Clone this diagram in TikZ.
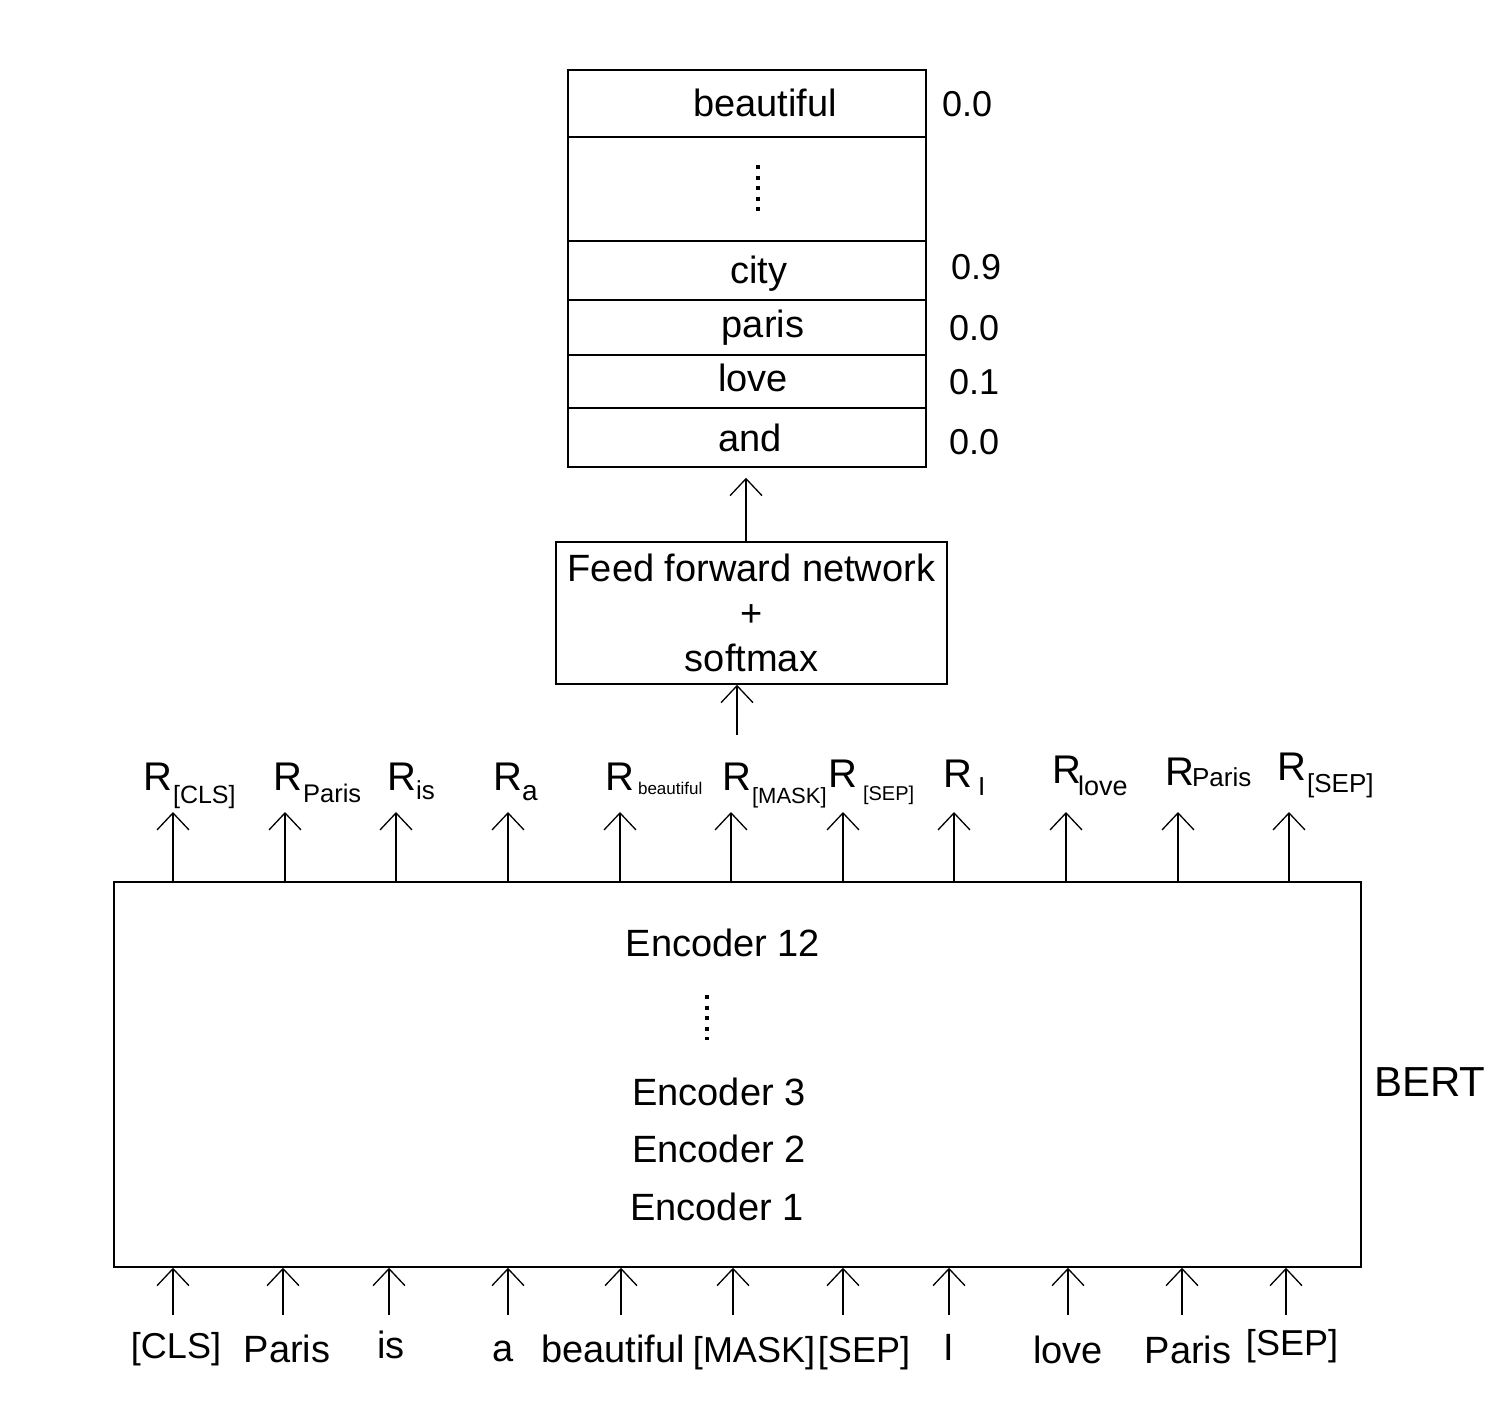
\documentclass[tikz,border=0pt]{standalone}
\usepackage{fontspec}
\setmainfont{Liberation Sans}
\usetikzlibrary{arrows.meta}

\newcommand{\rlab}[4]{R\kern#1pt\raisebox{-#2pt}{\fontsize{#3}{#3}\selectfont #4}}

\begin{document}
\begin{tikzpicture}[x=1pt, y=-1pt,
    box/.style={draw, line width=1.5pt, inner sep=0pt},
    arr/.style={-{Straight Barb[length=17pt, width=32pt]}, line width=1.3pt},
    word/.style={font=\fontsize{38}{45}\selectfont, inner sep=0pt, anchor=base},
    tag/.style={word, font=\fontsize{36}{40}\selectfont},
    prob/.style={font=\fontsize{36}{40}\selectfont, inner sep=0pt, anchor=base west},
    rword/.style={font=\fontsize{40}{44}\selectfont, inner sep=0pt, anchor=base west},
    dots/.style={line width=4pt, dash pattern=on 4pt off 6.5pt}]
    \useasboundingbox (0,0) rectangle (1496,1400);

    % Vocabulary table
    \node[box, minimum width=358pt, minimum height=397pt] (vocab) at (747,268.5) {};
    \foreach \y in {137,241,300,355,408}
        \draw[line width=1.5pt] (vocab.west |- 0,\y) -- (vocab.east |- 0,\y);
    \node[word] (wbeautiful) at (765,116) {beautiful};
    \draw[dots] (758,165) -- (758,216);
    \node[word] (wcity) at (759,283) {city};
    \node[word] (wparis) at (763,337) {paris};
    \node[word] (wlove) at (753,391) {love};
    \node[word] (wand) at (750,451) {and};

    % Probabilities
    \node[prob] (pbeautiful) at (942,116) {0.0};
    \node[prob] (pcity) at (951,279) {0.9};
    \node[prob] (pparis) at (949,340) {0.0};
    \node[prob] (plove) at (949,394) {0.1};
    \node[prob] (pand) at (949,454) {0.0};

    % Feed forward network
    \node[box, minimum width=391pt, minimum height=142pt, align=center,
          font=\fontsize{38}{45}\selectfont] (ffn) at (751.5,613)
        {Feed forward network\\+\\softmax};
    \draw[arr, shorten >=10pt] ([xshift=-5.5pt]ffn.north) -- ([xshift=-5.5pt]ffn.north |- vocab.south);
    \coordinate (rmask) at (737,735);
    \draw[arr] (rmask) -- (rmask |- ffn.south);

    % Output representations
    \node[rword] (r1) at (143,790) {\rlab{1}{13}{25}{[CLS]}};
    \node[rword] (r2) at (273,790) {\rlab{1}{12}{25.5}{Paris}};
    \node[rword] (r3) at (387,790) {\rlab{0}{9}{26}{is}};
    \node[rword] (r4) at (493,790) {\rlab{0}{10}{28}{a}};
    \node[rword] (r5) at (605,790) {\rlab{4}{4}{17}{beautiful}};
    \node[rword] (r6) at (722,790) {\rlab{1}{13}{22}{[MASK]}};
    \node[rword] (r7) at (828,787) {\rlab{6}{13}{20}{[SEP]}};
    \node[rword] (r8) at (943,787) {\rlab{6}{8}{26}{I}};
    \node[rword] (r9) at (1052,783) {\rlab{-3}{12}{27}{love}};
    \node[rword] (r10) at (1165,785) {\rlab{-2}{1}{26}{Paris}};
    \node[rword] (r11) at (1277,780) {\rlab{1}{12}{26}{[SEP]}};

    % BERT
    \node[box, minimum width=1247pt, minimum height=385pt] (bert) at (737.5,1074.5) {};
    \node[word] (enc12) at (723,956) {Encoder 12};
    \draw[dots] (707,995) -- (707,1040);
    \node[word] (enc3) at (719,1105) {Encoder 3};
    \node[word] (enc2) at (719,1162) {Encoder 2};
    \node[word] (enc1) at (717,1220) {Encoder 1};
    \node[word, font=\fontsize{42}{46}\selectfont] (bertlabel) at (1430,1096) {BERT};

    % Arrows out of and into BERT
    \foreach \x [count=\i] in {173,285,396,508,620,731,843,954,1066,1178,1289} {
        \coordinate (out\i) at (\x,812);
        \draw[arr] (bert.north -| out\i) -- (out\i);
    }
    \foreach \x [count=\i] in {173,283,389,508,621,733,843,949,1068,1182,1286} {
        \coordinate (in\i) at (\x,1315);
        \draw[arr] (in\i) -- (in\i |- bert.south);
    }

    % Input tokens
    \node[tag] (t1) at (176,1358) {[CLS]};
    \node[word] (t2) at (287,1362) {Paris};
    \node[word] (t3) at (391,1358) {is};
    \node[word] (t4) at (503,1361) {a};
    \node[word] (t5) at (613,1362) {beautiful};
    \node[tag] (t6) at (754,1362) {[MASK]};
    \node[tag] (t7) at (864,1362) {[SEP]};
    \node[word] (t8) at (949,1360) {I};
    \node[word] (t9) at (1068,1363) {love};
    \node[word] (t10) at (1188,1363) {Paris};
    \node[tag] (t11) at (1292,1355) {[SEP]};
\end{tikzpicture}
\end{document}
